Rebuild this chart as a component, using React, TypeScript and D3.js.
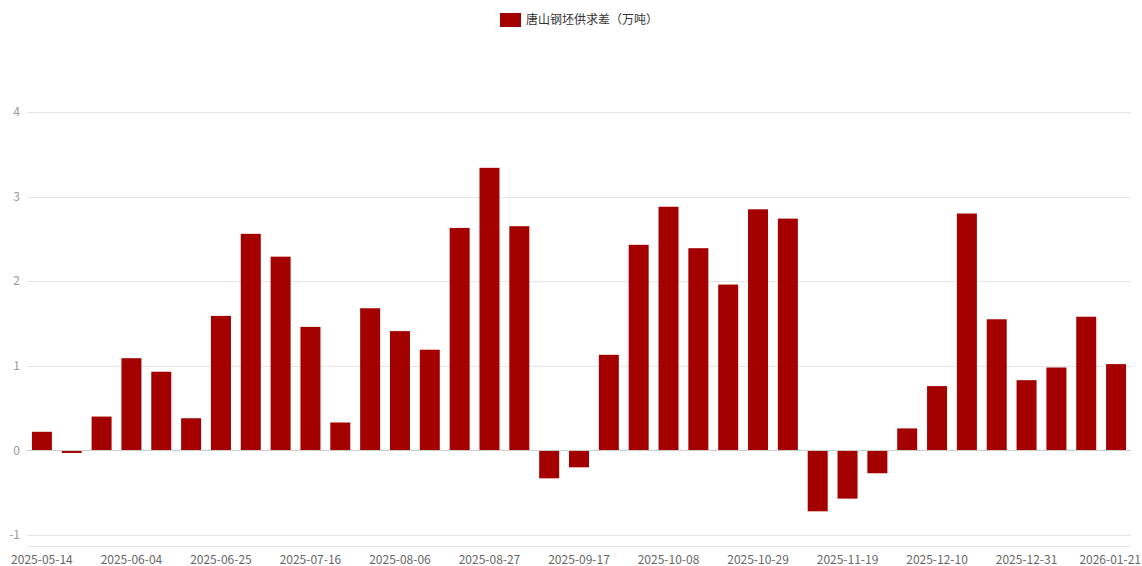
import React, { useRef, useEffect } from 'react';
import * as d3 from 'd3';

const dates = [
  '2025-05-14', '2025-05-21', '2025-05-28', '2025-06-04', '2025-06-11', '2025-06-18', '2025-06-25',
  '2025-07-02', '2025-07-09', '2025-07-16', '2025-07-23', '2025-07-30', '2025-08-06', '2025-08-13',
  '2025-08-20', '2025-08-27', '2025-09-03', '2025-09-10', '2025-09-17', '2025-09-24', '2025-10-01',
  '2025-10-08', '2025-10-15', '2025-10-22', '2025-10-29', '2025-11-05', '2025-11-12', '2025-11-19',
  '2025-11-26', '2025-12-03', '2025-12-10', '2025-12-17', '2025-12-24', '2025-12-31', '2026-01-07',
  '2026-01-14', '2026-01-21',
];

const gap = [
  0.22, -0.03, 0.4, 1.09, 0.93, 0.38, 1.59, 2.56, 2.29, 1.46, 0.33, 1.68, 1.41, 1.19, 2.63, 3.34,
  2.65, -0.33, -0.2, 1.13, 2.43, 2.88, 2.39, 1.96, 2.85, 2.74, -0.72, -0.57, -0.27, 0.26, 0.76,
  2.8, 1.55, 0.83, 0.98, 1.58, 1.02,
];

const yTicks = [-1, 0, 1, 2, 3, 4];
const seriesName = '唐山钢坯供求差（万吨）';

const App = () => {
  const chart = useRef(null);

  useEffect(() => {
    d3.select(chart.current).selectAll('*').remove();

    const W = 1142;
    const H = 566;
    const margin = { top: 112, bottom: 19, left: 27, right: 11 };
    const font = '"Noto Sans CJK SC", "Noto Sans", sans-serif';

    const svg = d3
      .select(chart.current)
      .append('svg')
      .attr('width', W)
      .attr('height', H)
      .style('display', 'block')
      .style('font-family', font);

    const x = d3
      .scaleBand()
      .domain(dates)
      .range([margin.left, W - margin.right])
      .paddingInner(0.33)
      .paddingOuter(0.165);

    const y = d3.scaleLinear().domain([-1, 4]).range([535, margin.top]);

    // grid
    svg
      .append('g')
      .selectAll('line')
      .data(yTicks.filter((t) => t !== 0))
      .enter()
      .append('line')
      .attr('x1', margin.left)
      .attr('x2', W - margin.right)
      .attr('y1', (d) => Math.round(y(d)) + 0.5)
      .attr('y2', (d) => Math.round(y(d)) + 0.5)
      .attr('stroke', '#e6e6e6');

    // bottom axis line
    svg
      .append('line')
      .attr('x1', margin.left)
      .attr('x2', W - margin.right)
      .attr('y1', H - margin.bottom - 0.5)
      .attr('y2', H - margin.bottom - 0.5)
      .attr('stroke', '#e6e6e6');

    svg
      .append('g')
      .selectAll('text')
      .data(yTicks)
      .enter()
      .append('text')
      .attr('x', 20)
      .attr('y', (d) => y(d))
      .attr('dy', '0.35em')
      .attr('text-anchor', 'end')
      .attr('fill', '#999')
      .style('font-size', '12px')
      .text((d) => d);

    // bars
    svg
      .append('g')
      .selectAll('rect')
      .data(gap)
      .enter()
      .append('rect')
      .attr('x', (d, i) => x(dates[i]))
      .attr('y', (d) => y(Math.max(0, d)))
      .attr('width', x.bandwidth())
      .attr('height', (d) => Math.abs(y(d) - y(0)))
      .attr('fill', '#a50000');

    // zero line
    svg
      .append('line')
      .attr('x1', margin.left)
      .attr('x2', W - margin.right)
      .attr('y1', Math.round(y(0)) + 0.5)
      .attr('y2', Math.round(y(0)) + 0.5)
      .attr('stroke', '#ccc');

    // x labels (every third week); last one kept inside the frame
    const shown = dates.filter((d, i) => i % 3 === 0);
    svg
      .append('g')
      .selectAll('text')
      .data(shown)
      .enter()
      .append('text')
      .attr('x', (d, i) => (i === shown.length - 1 ? W - 1 : x(d) + x.bandwidth() / 2))
      .attr('y', 560)
      .attr('dy', '0.35em')
      .attr('text-anchor', (d, i) => (i === shown.length - 1 ? 'end' : 'middle'))
      .attr('fill', '#666')
      .style('font-size', '12px')
      .text((d) => d);

    // legend
    const lg = svg.append('g');
    lg.append('rect')
      .attr('x', 500)
      .attr('y', 13)
      .attr('width', 21)
      .attr('height', 14)
      .attr('fill', '#a50000');
    lg.append('text')
      .attr('x', 526)
      .attr('y', 20)
      .attr('dy', '0.35em')
      .attr('fill', '#333')
      .style('font-size', '12px')
      .text(seriesName);
  }, []);

  return (
    <div
      ref={chart}
      style={{ position: 'absolute', left: 0, top: 0, width: 1142, height: 566, background: '#fff' }}
    ></div>
  );
};

export default App;
